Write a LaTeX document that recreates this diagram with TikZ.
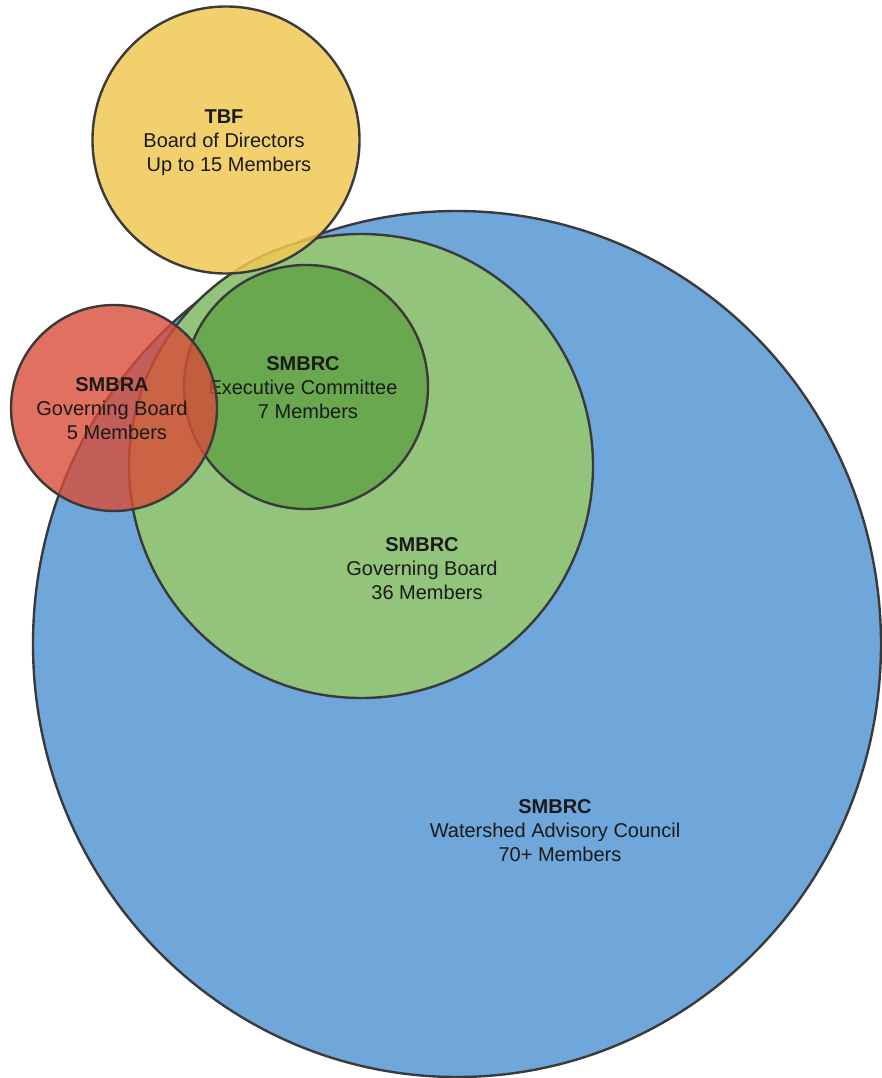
\documentclass[tikz,border=0pt]{standalone}
\usepackage{fontspec}
\setmainfont{Liberation Sans}
\usetikzlibrary{shapes.geometric}

\definecolor{councilblue}{HTML}{6FA7DB}
\definecolor{boardgreen}{HTML}{93C47B}
\definecolor{execgreen}{HTML}{69A84E}
\definecolor{tbfyellow}{RGB}{240,200,84}
\definecolor{smbrared}{RGB}{216,76,56}
\definecolor{ringgray}{HTML}{3A3A3A}
\definecolor{textdark}{HTML}{1A1A1A}

\begin{document}
\begin{tikzpicture}[x=1pt, y=-1pt,
    ring/.style={draw=ringgray, line width=2.4pt, inner sep=0pt, outer sep=0pt},
    caption/.style={align=center, text=textdark, font=\fontsize{20}{24}\selectfont}]
    \useasboundingbox (0,0) rectangle (881,1078);

    % council, board and committee
    \node[ring, ellipse, fill=councilblue, minimum width=848pt, minimum height=866pt] (wac) at (457,644) {};
    \node[caption] (wactext) at (555,831) {\textbf{SMBRC}\\Watershed Advisory Council\\\hspace*{.5em}70+ Members};
    \node[ring, circle, fill=boardgreen, minimum size=464pt] (gb) at (361,466) {};
    \node[caption] (gbtext) at (422,569) {\textbf{SMBRC}\\Governing Board\\\hspace*{.5em}36 Members};
    \node[ring, circle, fill=execgreen, minimum size=244pt] (ec) at (306,387) {};
    \node[caption] (ectext) at (303,388) {\textbf{SMBRC}\\Executive Committee\\\hspace*{.5em}7 Members};

    % overlapping bodies
    \node[ring, circle, fill=tbfyellow, fill opacity=.85, minimum size=267pt] (tbf) at (226,140) {};
    \node[caption] (tbftext) at (224,143) {\textbf{TBF}\\Board of Directors\\\hspace*{.5em}Up to 15 Members};
    \node[ring, circle, fill=smbrared, fill opacity=.8, minimum size=206pt] (smbra) at (114,408) {};
    \node[caption] (smbratext) at (112,409) {\textbf{SMBRA}\\Governing Board\\\hspace*{.5em}5 Members};
\end{tikzpicture}
\end{document}
